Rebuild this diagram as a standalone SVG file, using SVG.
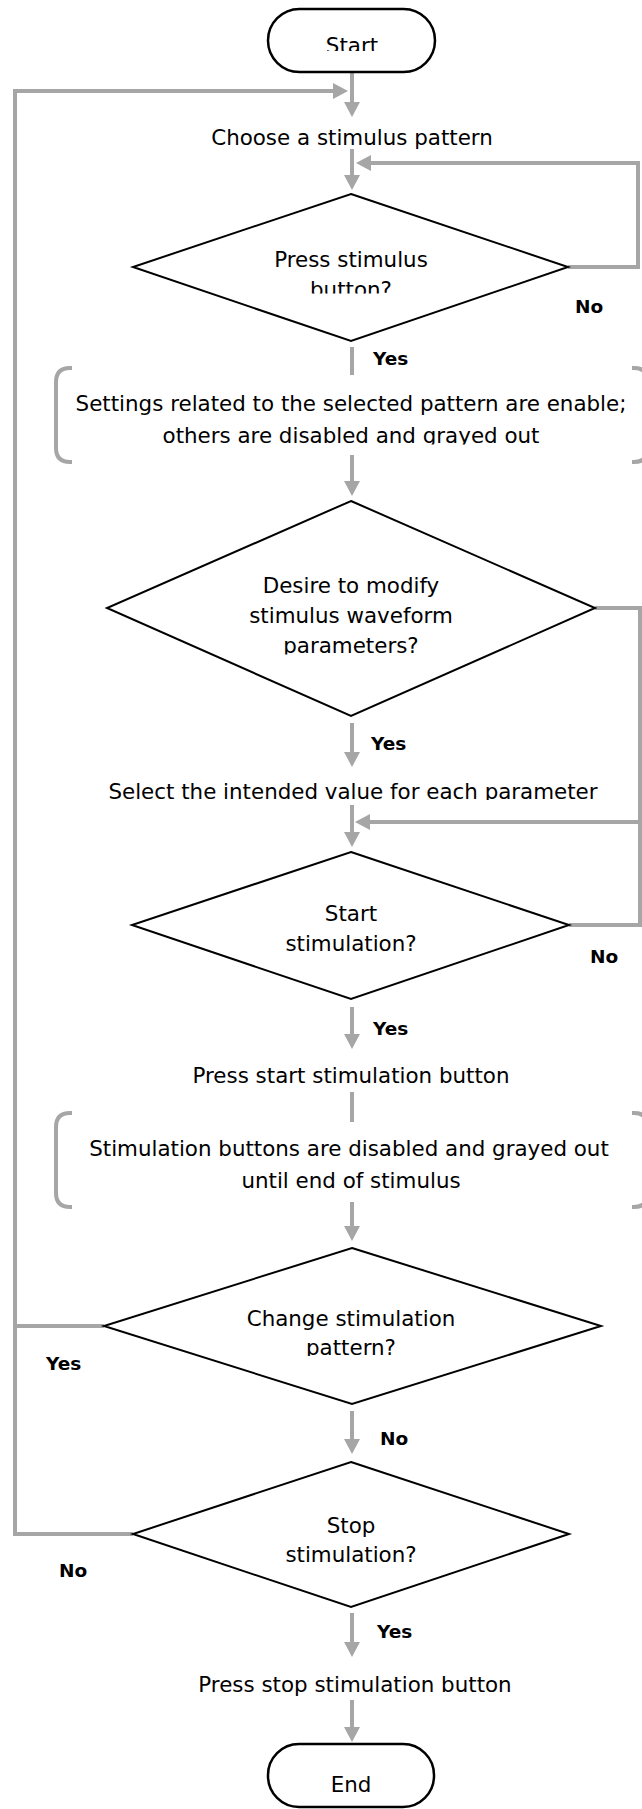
<svg xmlns="http://www.w3.org/2000/svg" width="642" height="1809" viewBox="0 0 642 1809">
  <style>
    .term { fill: #fff; stroke: #000; stroke-width: 2.5; }
    .dec { fill: #fff; stroke: #000; stroke-width: 2; }
    .brk { fill: none; stroke: #a6a6a6; stroke-width: 4; }
    .wire { fill: none; stroke: #a6a6a6; stroke-width: 4; }
    .arr { marker-end: url(#head); }
    .t { font-family: "DejaVu Sans", "Liberation Sans", sans-serif; font-size: 21.4px; fill: #000; text-anchor: middle; }
    .lb { font-family: "DejaVu Sans", "Liberation Sans", sans-serif; font-size: 18.5px; font-weight: bold; fill: #000; }
  </style>
  <defs>
    <marker id="head" viewBox="0 0 15 16" refX="1" refY="8" markerWidth="15" markerHeight="16" markerUnits="userSpaceOnUse" orient="auto">
      <path d="M0,0 L15,8 L0,16 z" fill="#a6a6a6"/>
    </marker>
    <!-- text boxes that cut off the lower edge of their last line -->
    <clipPath id="cStart"><rect x="0" y="0" width="642" height="51"/></clipPath>
    <clipPath id="cD1"><rect x="0" y="200" width="642" height="93.5"/></clipPath>
    <clipPath id="cB1"><rect x="0" y="380" width="642" height="64.5"/></clipPath>
    <clipPath id="cD2"><rect x="0" y="560" width="642" height="94.5"/></clipPath>
    <clipPath id="cSel"><rect x="0" y="770" width="642" height="30"/></clipPath>
    <clipPath id="cD4"><rect x="0" y="1290" width="642" height="66"/></clipPath>
  </defs>

  <g id="connectors">
    <path class="wire arr" d="M352 72 V103"/>
    <path class="wire arr" d="M133 1534 H15 V91 H334"/>
    <path class="wire" d="M104 1326 H15"/>
    <path class="wire arr" d="M352 149 V176"/>
    <path class="wire arr" d="M568 267 H638 V163 H370"/>
    <path class="wire" d="M352 347 V375"/>
    <path class="wire arr" d="M352 455 V482"/>
    <path class="wire arr" d="M352 723 V753"/>
    <path class="wire arr" d="M595 608 H640 V822 H369"/>
    <path class="wire" d="M569 925 H640 V822"/>
    <path class="wire arr" d="M352 805 V833"/>
    <path class="wire arr" d="M352 1007 V1035"/>
    <path class="wire" d="M352 1092 V1122"/>
    <path class="wire arr" d="M352 1202 V1227"/>
    <path class="wire arr" d="M352 1411 V1440"/>
    <path class="wire arr" d="M352 1613 V1643"/>
    <path class="wire arr" d="M352 1700 V1728"/>
  </g>

  <g id="start">
    <rect class="term" x="268" y="9" width="167" height="63" rx="31.5"/>
    <text class="t" x="352" y="52.5" clip-path="url(#cStart)">Start</text>
  </g>

  <g id="choose-pattern">
    <text class="t" x="352" y="145">Choose a stimulus pattern</text>
  </g>

  <g id="press-stimulus">
    <polygon class="dec" points="351,194 568,267 351,341 133,267"/>
    <text class="t" x="351" y="267">Press stimulus</text>
    <text class="t" x="351" y="297" clip-path="url(#cD1)">button?</text>
  </g>

  <g id="settings-note">
    <path class="brk" d="M72 368 H70 Q56 368 56 382 V448 Q56 462 70 462 H72"/>
    <path class="brk" d="M632 368 H634 Q648 368 648 382 V448 Q648 462 634 462 H632"/>
    <text class="t" x="351" y="411">Settings related to the selected pattern are enable;</text>
    <text class="t" x="351" y="443" clip-path="url(#cB1)">others are disabled and grayed out</text>
  </g>

  <g id="modify-params">
    <polygon class="dec" points="351,501 595,608 351,716 107,608"/>
    <text class="t" x="351" y="593">Desire to modify</text>
    <text class="t" x="351" y="623">stimulus waveform</text>
    <text class="t" x="351" y="653" clip-path="url(#cD2)">parameters?</text>
  </g>

  <g id="select-values">
    <text class="t" x="353" y="798.5" clip-path="url(#cSel)">Select the intended value for each parameter</text>
  </g>

  <g id="start-stimulation">
    <polygon class="dec" points="351,852 569,925 351,999 132,925"/>
    <text class="t" x="351" y="921">Start</text>
    <text class="t" x="351" y="951">stimulation?</text>
  </g>

  <g id="press-start">
    <text class="t" x="351" y="1083">Press start stimulation button</text>
  </g>

  <g id="buttons-note">
    <path class="brk" d="M72 1113 H70 Q56 1113 56 1127 V1193 Q56 1207 70 1207 H72"/>
    <path class="brk" d="M632 1113 H634 Q648 1113 648 1127 V1193 Q648 1207 634 1207 H632"/>
    <text class="t" x="349" y="1156">Stimulation buttons are disabled and grayed out</text>
    <text class="t" x="351" y="1188">until end of stimulus</text>
  </g>

  <g id="change-pattern">
    <polygon class="dec" points="352,1248 601,1326 352,1404 104,1326"/>
    <text class="t" x="351" y="1326">Change stimulation</text>
    <text class="t" x="351" y="1355" clip-path="url(#cD4)">pattern?</text>
  </g>

  <g id="stop-stimulation">
    <polygon class="dec" points="351,1462 569,1534 351,1607 133,1534"/>
    <text class="t" x="351" y="1533">Stop</text>
    <text class="t" x="351" y="1562">stimulation?</text>
  </g>

  <g id="press-stop">
    <text class="t" x="355" y="1692">Press stop stimulation button</text>
  </g>

  <g id="end">
    <rect class="term" x="268" y="1744" width="166" height="63" rx="31"/>
    <text class="t" x="351" y="1792">End</text>
  </g>

  <g id="branch-labels">
    <text class="lb" x="575" y="313">No</text>
    <text class="lb" x="373" y="365">Yes</text>
    <text class="lb" x="371" y="750">Yes</text>
    <text class="lb" x="590" y="963">No</text>
    <text class="lb" x="373" y="1035">Yes</text>
    <text class="lb" x="46" y="1370">Yes</text>
    <text class="lb" x="380" y="1445">No</text>
    <text class="lb" x="59" y="1577">No</text>
    <text class="lb" x="377" y="1638">Yes</text>
  </g>
</svg>
